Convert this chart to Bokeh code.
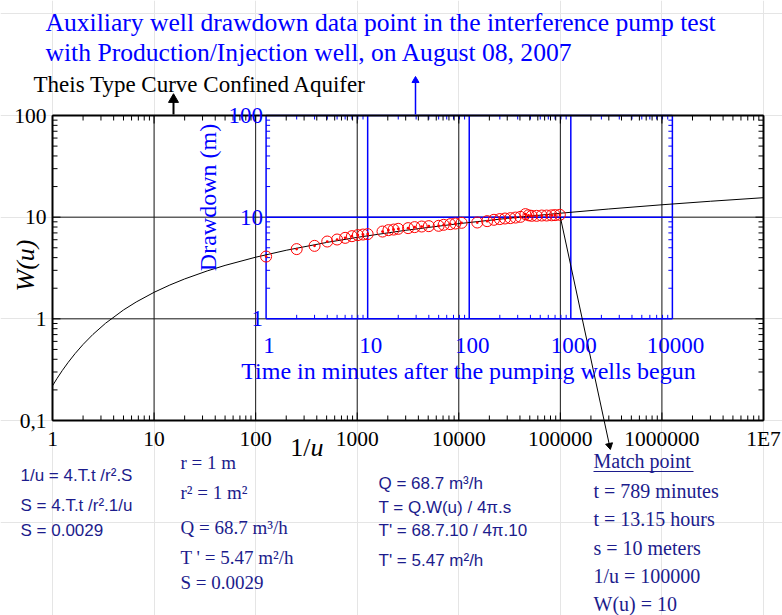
import math

from bokeh.plotting import figure
from bokeh.models import Range1d, LogScale, Label
from bokeh.embed import file_html
from bokeh.resources import INLINE

# Theis well function W(u), tabulated against 1/u
inv_u = [1, 1.111, 1.25, 1.429, 1.667, 2, 2.5, 3.333, 5, 6.667, 10, 14.29, 20,
         33.33, 50, 100, 200, 500, 1000, 3000, 1e4, 3e4, 1e5, 3e5, 1e6, 3e6, 1e7]
w_u = [0.2194, 0.2602, 0.3106, 0.3738, 0.4544, 0.5598, 0.7024, 0.9057, 1.2227,
       1.4645, 1.8229, 2.1508, 2.4679, 2.9591, 3.3547, 4.0379, 4.7261, 5.6394,
       6.3315, 7.4295, 8.6332, 9.7318, 10.9357, 12.0343, 13.2383, 14.3369, 15.5409]

# Auxiliary well drawdown, August 08, 2007
time_min = [1, 2, 3, 4, 5, 6, 7, 8, 9, 10, 14, 16, 18, 20, 25, 29, 34, 40, 50,
            56, 65, 73, 84, 120, 150, 175, 200, 225, 254, 285, 319, 357, 383,
            412, 461, 517, 578, 647, 700, 780]
drawdown_m = [4.10, 4.85, 5.22, 5.76, 6.03, 6.26, 6.50, 6.66, 6.75, 6.81, 7.22,
              7.45, 7.55, 7.68, 7.80, 7.98, 8.09, 8.16, 8.22, 8.41, 8.54, 8.66,
              8.80, 8.86, 9.14, 9.42, 9.57, 9.70, 9.78, 9.91, 10.07, 10.71, 10.43,
              10.31, 10.31, 10.38, 10.38, 10.43, 10.47, 10.54]

# Match point between the type curve and the field data
match_t = 789          # minutes
match_inv_u = 100000
match_s = 10           # metres
match_w = 10

# Axis ticks and labels
main_x_ticks = [1, 10, 100, 1000, 1e4, 1e5, 1e6, 1e7]
main_x_labels = ["1", "10", "100", "1000", "10000", "100000", "1000000", "1E7"]
main_y_ticks = [0.1, 1, 10, 100]
main_y_labels = ["0,1", "1", "10", "100"]
time_ticks = [1, 10, 100, 1000, 10000]
time_labels = ["1", "10", "100", "1000", "10000"]
dd_ticks = [1, 10, 100]
dd_labels = ["1", "10", "100"]

SERIF = "Liberation Serif"
SANS = "Liberation Sans"
BLUE = "#0000ff"
NAVY = "#1c1c8c"

W, H = 782, 615
FL, FR, FT, FB = 52, 763, 115, 420   # edges of the W(u) axes box on the page

x_lo, x_hi = main_x_ticks[0], main_x_ticks[-1]
y_lo, y_hi = main_y_ticks[0], main_y_ticks[-1]
PPD_X = (FR - FL) / math.log10(x_hi / x_lo)   # pixels per decade
PPD_Y = (FB - FT) / math.log10(y_hi / y_lo)


def xd(px):
    """page x pixel -> 1/u value"""
    return x_lo * 10 ** ((px - FL) / PPD_X)


def yd(py):
    """page y pixel -> W(u) value"""
    return y_hi / 10 ** ((py - FT) / PPD_Y)


# the drawing area covers the whole page; the log axes box sits inside it
p = figure(width=W, height=H, x_axis_type="log", y_axis_type="log",
           x_range=Range1d(xd(0), xd(W)), y_range=Range1d(yd(H), yd(0)),
           x_axis_location=None, y_axis_location=None,
           output_backend="svg", toolbar_location=None, min_border=0)
p.background_fill_color = "white"
p.border_fill_color = "white"
p.outline_line_color = None

# time axis of the field data, tied to 1/u through the match point
ratio = match_t / match_inv_u
p.extra_x_ranges["t"] = Range1d(xd(0) * ratio, xd(W) * ratio)
p.extra_x_scales["t"] = LogScale()


def minor(lo_exp, hi_exp):
    return [k * 10.0 ** d for d in range(lo_exp, hi_exp) for k in range(2, 10)]


def ticks(xs, ys, length, angle, color, rng=None):
    kw = {"x_range_name": rng} if rng else {}
    p.ray(x=xs, y=ys, length=length, angle=angle, length_units="screen",
          line_color=color, line_width=1, **kw)


def lab(text, x, y, size, color, font=SERIF, style="normal", align="left",
        angle=0.0, rng=None, dx=0):
    kw = {"x_range_name": rng} if rng else {}
    p.add_layout(Label(x=x, y=y, text=text, text_font=font, x_offset=dx,
                       text_font_size=f"{size}px", text_color=color,
                       text_font_style=style, text_align=align,
                       text_baseline="middle", angle=angle, **kw))


# --- main grid ---
inner_x = main_x_ticks[1:-1]
inner_y = main_y_ticks[1:-1]
p.segment(x0=inner_x, y0=[y_lo] * len(inner_x), x1=inner_x, y1=[y_hi] * len(inner_x),
          line_color="#1a1a1a", line_width=1)
p.segment(x0=[x_lo] * len(inner_y), y0=inner_y, x1=[x_hi] * len(inner_y), y1=inner_y,
          line_color="#1a1a1a", line_width=1)

# --- inset: drawdown vs time, in blue ---
t0, t1 = time_ticks[0], time_ticks[-1]
d0, d1 = dd_ticks[0], dd_ticks[-1]
mid_t = time_ticks[1:-1]
mid_d = dd_ticks[1:-1]
p.segment(x0=mid_t, y0=[d0] * len(mid_t), x1=mid_t, y1=[d1] * len(mid_t),
          x_range_name="t", line_color=BLUE, line_width=1.5)
p.segment(x0=[t0] * len(mid_d), y0=mid_d, x1=[t1] * len(mid_d), y1=mid_d,
          x_range_name="t", line_color=BLUE, line_width=1.5)
p.segment(x0=[t0, t1, t0, t0], y0=[d0, d0, d0, d1],
          x1=[t0, t1, t1, t1], y1=[d1, d1, d0, d1],
          x_range_name="t", line_color=BLUE, line_width=1.5)

t_minor = minor(0, 4)
d_minor = minor(0, 2)
ticks(t_minor, [d0] * len(t_minor), 4, math.pi / 2, BLUE, "t")
ticks(t_minor, [d1] * len(t_minor), 4, -math.pi / 2, BLUE, "t")
ticks([t0] * len(d_minor), d_minor, 4, 0.0, BLUE, "t")
ticks([t1] * len(d_minor), d_minor, 4, math.pi, BLUE, "t")

# Theis type curve
p.line(inv_u, w_u, line_color="black", line_width=1)

# field data
p.scatter(time_min, drawdown_m, x_range_name="t", marker="circle_dot", size=11,
          line_color="red", fill_color=None, line_width=1)

# --- main axes box with inward ticks ---
p.segment(x0=[x_lo, x_hi, x_lo, x_lo], y0=[y_lo, y_lo, y_lo, y_hi],
          x1=[x_lo, x_hi, x_hi, x_hi], y1=[y_hi, y_hi, y_lo, y_hi],
          line_color="black", line_width=2)
x_minor = minor(0, 7)
y_minor = minor(-1, 2)
for yy, ang in ((y_lo, math.pi / 2), (y_hi, -math.pi / 2)):
    ticks(main_x_ticks, [yy] * len(main_x_ticks), 8, ang, "black")
    ticks(x_minor, [yy] * len(x_minor), 5, ang, "black")
for xx, ang in ((x_lo, 0.0), (x_hi, math.pi)):
    ticks([xx] * len(main_y_ticks), main_y_ticks, 8, ang, "black")
    ticks([xx] * len(y_minor), y_minor, 5, ang, "black")

# main tick labels
for xv, xl in zip(main_x_ticks, main_x_labels):
    lab(xl, xv, yd(438), 21.5, "black", align="center")
for yv, yl in zip(main_y_ticks, main_y_labels):
    lab(yl, xd(46), yv, 21.5, "black", align="right")

# inset tick labels and titles
for tv, tl in zip(time_ticks, time_labels):
    lab(tl, tv, yd(345), 23, BLUE, align="center", rng="t", dx=3)
for dv, dl in zip(dd_ticks, dd_labels):
    lab(dl, t0, dv, 23, BLUE, align="right", rng="t", dx=-3)
lab("Drawdown (m)", xd(207), yd(197), 24, BLUE, align="center", angle=math.pi / 2)
lab("Time in minutes after the pumping wells begun", xd(468), yd(370), 24, BLUE,
    align="center")

# titles
lab("Auxiliary well drawdown data point in the interference pump test",
    xd(45), yd(22), 25.6, BLUE)
lab("with Production/Injection well, on August 08, 2007", xd(45), yd(52), 25.6, BLUE)
lab("Theis Type Curve Confined Aquifer", xd(33), yd(84), 23, "black")

# main axis titles
lab("W(u)", xd(25), yd(265), 26, "black", style="italic", align="center",
    angle=math.pi / 2)
lab("1/", xd(310), yd(447), 26, "black", align="right")
lab("u", xd(310), yd(447), 26, "black", style="italic")

# pointer arrows: shaft + triangular head
p.segment(x0=[xd(173)], y0=[yd(114)], x1=[xd(173)], y1=[yd(101)],
          line_color="black", line_width=2)
p.scatter([xd(173)], [yd(99)], marker="triangle", size=10, angle=0.0,
          line_color="black", fill_color="black")
p.segment(x0=[xd(415)], y0=[yd(114)], x1=[xd(415)], y1=[yd(82)],
          line_color=BLUE, line_width=1.5)
p.scatter([xd(415)], [yd(80)], marker="triangle", size=7, angle=0.0,
          line_color=BLUE, fill_color=BLUE)

mx0 = FL + PPD_X * math.log10(match_inv_u / x_lo)
my0 = FT + PPD_Y * math.log10(y_hi / match_w)
mx1, my1 = 609, 445
head_angle = math.atan2(-(my1 - my0), mx1 - mx0) - math.pi / 2
p.segment(x0=[match_inv_u], y0=[match_w], x1=[xd(mx1)], y1=[yd(my1)],
          line_color="black", line_width=1)
p.scatter([xd(mx1)], [yd(my1)], marker="triangle", size=7, angle=head_angle,
          line_color="black", fill_color="black")

# worked solution
for txt, py in (("1/u = 4.T.t /r².S", 475), ("S = 4.T.t /r².1/u", 505),
                ("S = 0.0029", 530)):
    lab(txt, xd(20), yd(py), 17, NAVY, font=SANS)

for txt, py in (("r = 1 m", 462), ("r² = 1 m²", 492), ("Q = 68.7 m³/h", 527),
                ("T ' = 5.47 m²/h", 557), ("S = 0.0029", 582)):
    lab(txt, xd(180), yd(py), 19, NAVY)

for txt, py in (("Q = 68.7 m³/h", 483), ("T = Q.W(u) / 4π.s", 507),
                ("T' = 68.7.10 / 4π.10", 530), ("T' = 5.47 m²/h", 560)):
    lab(txt, xd(378), yd(py), 17, NAVY, font=SANS)

lab("Match point", xd(593), yd(460), 20, NAVY)
p.segment(x0=[xd(593)], y0=[yd(471)], x1=[xd(693)], y1=[yd(471)],
          line_color=NAVY, line_width=1)
match_lines = [f"t = {match_t} minutes", f"t = {match_t / 60:.2f} hours",
               f"s = {match_s} meters", f"1/u = {match_inv_u}", f"W(u) = {match_w}"]
for txt, py in zip(match_lines, (490, 518, 547, 575, 603)):
    lab(txt, xd(593), yd(py), 20, NAVY)

open("out.html", "w").write(file_html(p, INLINE))
